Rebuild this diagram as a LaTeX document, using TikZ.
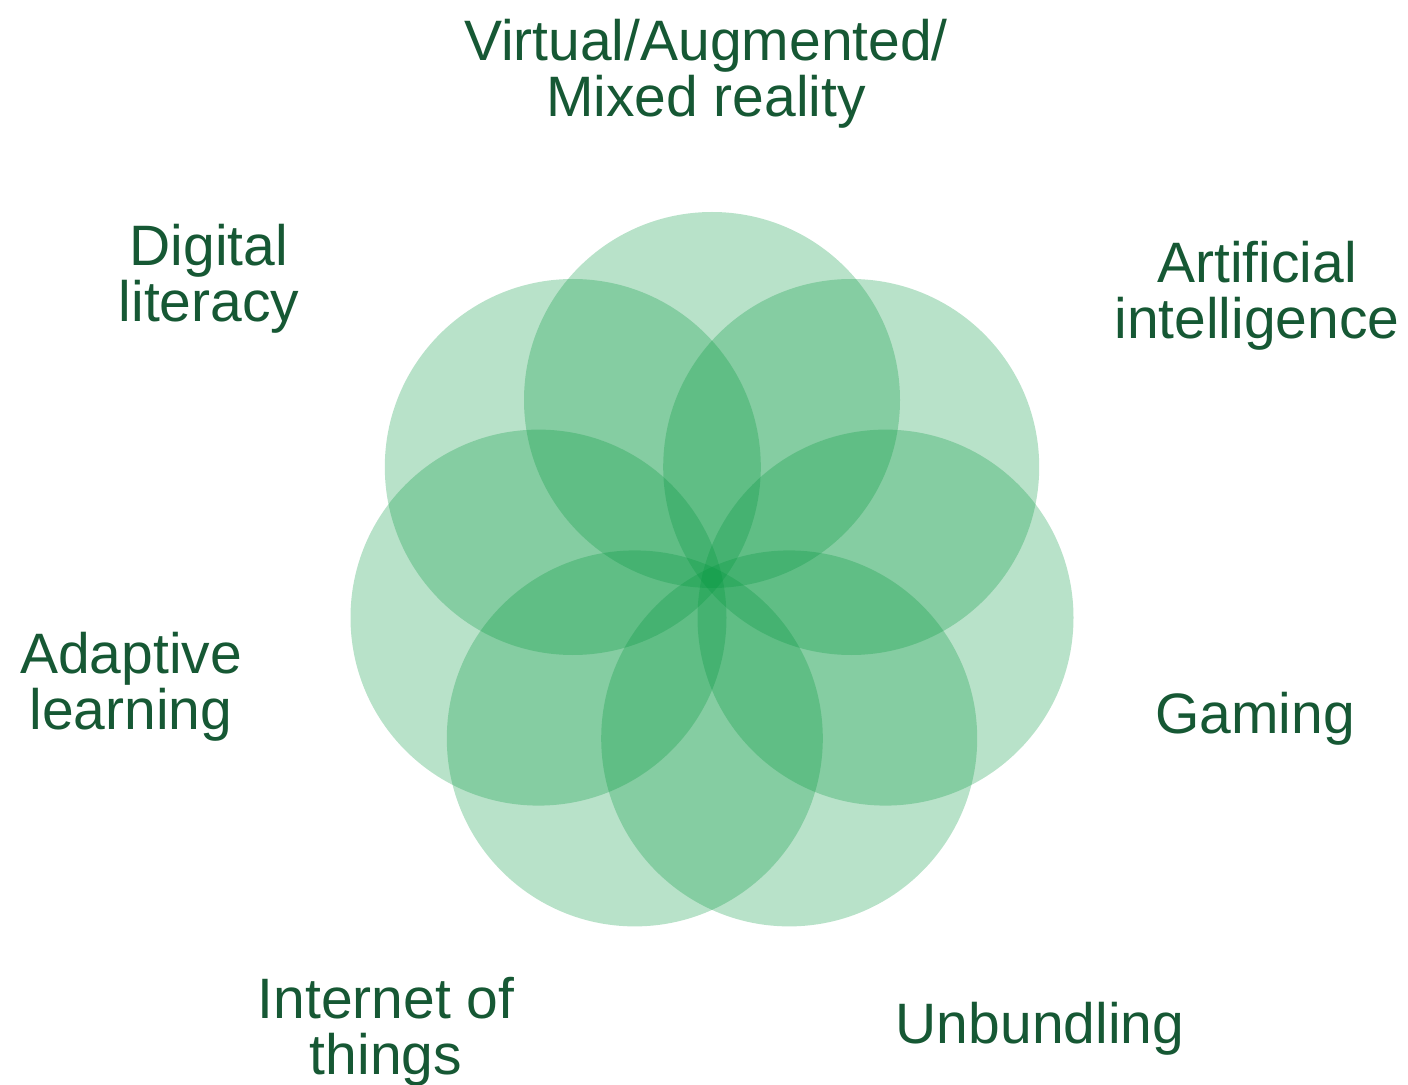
\documentclass[tikz,border=0pt]{standalone}
\usepackage{fontspec}
\setmainfont{Liberation Sans}
\definecolor{petal}{RGB}{0,150,60}
\definecolor{labelc}{RGB}{22,88,52}
\begin{document}
\begin{tikzpicture}[x=0.5pt,y=-0.5pt,
  petalc/.style={circle, minimum size=188pt, inner sep=0pt, draw=none, fill=petal, fill opacity=0.28},
  lab/.style={anchor=north, align=center, inner sep=0pt, text=labelc, font=\fontsize{28.5pt}{28pt}\selectfont}]
\useasboundingbox (0,0) rectangle (1408,1085);
\coordinate (o) at (712,578);
\node[petalc] (c1) at (712,400) {};
\node[petalc] (c2) at (851.2,467) {};
\node[petalc] (c3) at (885.5,617.6) {};
\node[petalc] (c4) at (789.2,738.4) {};
\node[petalc] (c5) at (634.8,738.4) {};
\node[petalc] (c6) at (538.5,617.6) {};
\node[petalc] (c7) at (572.8,467) {};
\node[lab] (vr) at (706,19) {Virtual/Augmented/\\Mixed reality};
\node[lab] (dl) at (209,224) {Digital\\literacy};
\node[lab] (ai) at (1257,241) {Artificial\\intelligence};
\node[lab] (al) at (131,632) {Adaptive\\learning};
\node[lab] (gm) at (1255,692) {Gaming};
\node[lab] (iot) at (386,977) {Internet of\\things};
\node[lab] (ub) at (1040,1002) {Unbundling};
\end{tikzpicture}
\end{document}
